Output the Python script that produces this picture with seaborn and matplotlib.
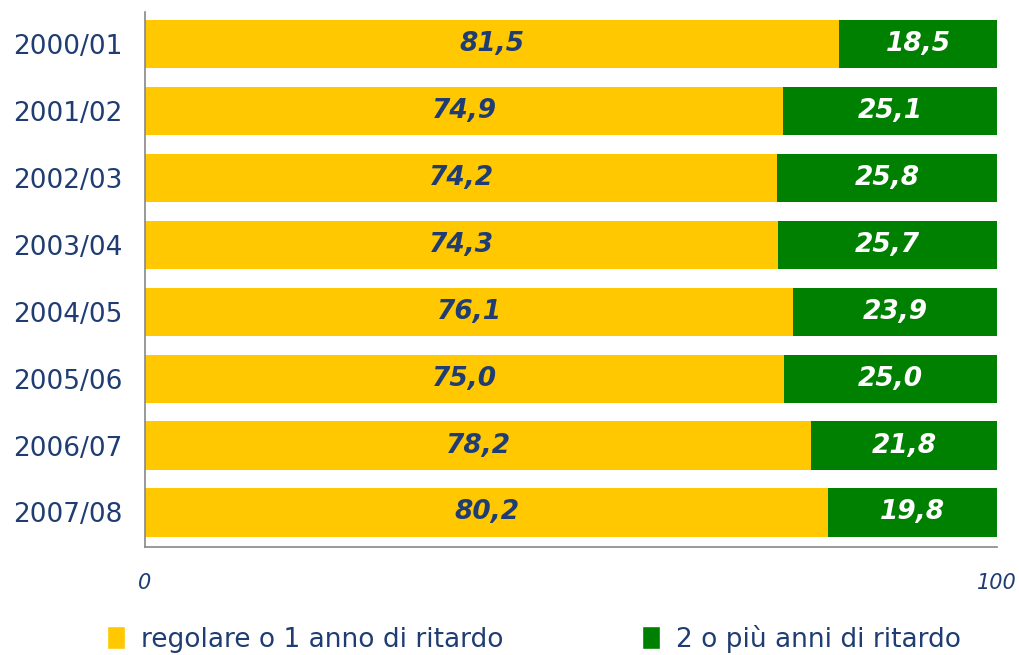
import matplotlib
matplotlib.use("Agg")
import matplotlib.pyplot as plt
import seaborn as sns
import pandas as pd
from matplotlib.patches import Patch

years = ["2000/01", "2001/02", "2002/03", "2003/04",
         "2004/05", "2005/06", "2006/07", "2007/08"]
regolare = [81.5, 74.9, 74.2, 74.3, 76.1, 75.0, 78.2, 80.2]
ritardo = [18.5, 25.1, 25.8, 25.7, 23.9, 25.0, 21.8, 19.8]

YELLOW = "#FFC800"
GREEN = "#008000"
NAVY = "#1F3D73"


def fmt(v):
    return f"{v:.1f}".replace(".", ",")


def main():
    sns.set_theme(style="white")
    plt.rcParams["font.family"] = ["DejaVu Sans"]

    df = pd.DataFrame({"anno": years, "regolare": regolare, "ritardo": ritardo})
    df["totale"] = df["regolare"] + df["ritardo"]

    fig = plt.figure(figsize=(10.2, 6.55), dpi=100)
    ax = fig.add_axes([0.1422, 0.1649, 0.8353, 0.8168])

    # stacked bars: total in green, regular part in yellow on top
    sns.barplot(data=df, y="anno", x="totale", color=GREEN, orient="h",
                width=0.72, saturation=1, linewidth=0, ax=ax)
    sns.barplot(data=df, y="anno", x="regolare", color=YELLOW, orient="h",
                width=0.72, saturation=1, linewidth=0, ax=ax)

    for i, (a, b) in enumerate(zip(regolare, ritardo)):
        ax.text(a / 2, i, fmt(a), ha="center", va="center", color=NAVY,
                fontsize=19, fontweight="bold", fontstyle="italic")
        ax.text(a + b / 2, i, fmt(b), ha="center", va="center", color="white",
                fontsize=19, fontweight="bold", fontstyle="italic")

    ax.set_xlim(0, 100)
    ax.set_ylim(7.516, -0.478)
    ax.set_xticks([0, 100])
    ax.set_xticklabels(["0", "100"], fontstyle="italic")
    ax.set_xlabel("")
    ax.set_ylabel("")
    ax.tick_params(axis="x", colors=NAVY, labelsize=15, length=0, pad=19)
    ax.tick_params(axis="y", colors=NAVY, labelsize=19, length=0, pad=16)

    for s in ["top", "right"]:
        ax.spines[s].set_visible(False)
    for s in ["left", "bottom"]:
        ax.spines[s].set_color("#888888")
        ax.spines[s].set_linewidth(1.2)

    handles = [Patch(facecolor=YELLOW, label="regolare o 1 anno di ritardo"),
               Patch(facecolor=GREEN, label="2 o più anni di ritardo")]
    leg = fig.legend(handles=handles, loc="center", ncol=2,
                     bbox_to_anchor=(0.5235, 0.025), frameon=False,
                     fontsize=19, handlelength=0.68, handleheight=0.91,
                     handletextpad=0.61, columnspacing=5.27)
    for t in leg.get_texts():
        t.set_color(NAVY)

    fig.savefig("out.png", dpi=100)


if __name__ == "__main__":
    main()
